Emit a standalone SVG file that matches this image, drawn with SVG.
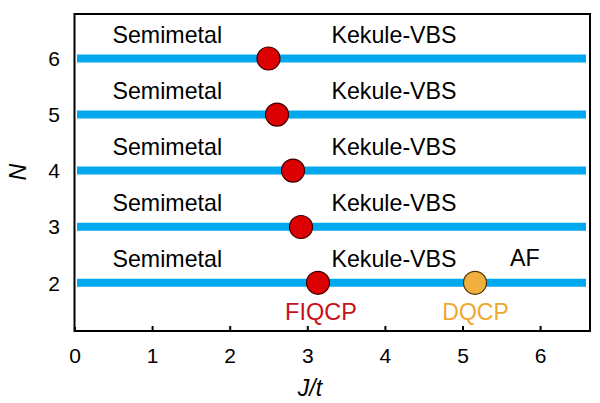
<svg xmlns="http://www.w3.org/2000/svg" width="600" height="403" viewBox="0 0 600 403">
<style>
.t{font-family:"Liberation Sans",Arial,sans-serif;font-size:23.2px;fill:#000}
.n{font-family:"Liberation Sans",Arial,sans-serif;font-size:21px;fill:#000}
.bar{stroke:#03a9ee;stroke-width:8}
.red{fill:#dd0000;stroke:#3a0000;stroke-width:1.2}
.org{fill:#f0b040;stroke:#4a3000;stroke-width:1.2}
.ax{fill:none;stroke:#000;stroke-width:2}
</style>
<rect width="600" height="403" fill="#fff"/>
<g id="axes">
<rect class="ax" x="74.5" y="14" width="515.5" height="317"/>
<path class="ax" d="M75 331v-4M152.6 331v-5M230.2 331v-5M307.8 331v-5M385.4 331v-5M463 331v-5M540.6 331v-5"/>
<g class="n" text-anchor="middle">
<text x="75" y="363">0</text><text x="152.6" y="363">1</text><text x="230.2" y="363">2</text><text x="307.8" y="363">3</text><text x="385.4" y="363">4</text><text x="463" y="363">5</text><text x="540.6" y="363">6</text>
<text x="54" y="66">6</text><text x="54" y="122">5</text><text x="54" y="178">4</text><text x="54" y="234">3</text><text x="54" y="290.5">2</text>
</g>
<text class="t" x="310" y="396" text-anchor="middle" font-style="italic">J/t</text>
<text class="t" x="0" y="0" text-anchor="middle" font-style="italic" transform="translate(26 172) rotate(-90)">N</text>
</g>
<g id="connectors">
<line class="bar" x1="77" y1="58.5" x2="586" y2="58.5"/>
<line class="bar" x1="77" y1="114.6" x2="586" y2="114.6"/>
<line class="bar" x1="77" y1="170.6" x2="586" y2="170.6"/>
<line class="bar" x1="77" y1="226.7" x2="586" y2="226.7"/>
<line class="bar" x1="77" y1="282.8" x2="586" y2="282.8"/>
</g>
<g id="labels" class="t">
<text x="112.5" y="43">Semimetal</text><text x="331.5" y="43">Kekule-VBS</text>
<text x="112.5" y="99">Semimetal</text><text x="331.5" y="99">Kekule-VBS</text>
<text x="112.5" y="155">Semimetal</text><text x="331.5" y="155">Kekule-VBS</text>
<text x="112.5" y="211">Semimetal</text><text x="331.5" y="211">Kekule-VBS</text>
<text x="112.5" y="267">Semimetal</text><text x="331.5" y="267">Kekule-VBS</text>
<text x="510" y="266">AF</text>
</g>
<g id="p6"><circle class="red" cx="268.5" cy="58.5" r="11.5"/></g>
<g id="p5"><circle class="red" cx="277" cy="114.6" r="11.5"/></g>
<g id="p4"><circle class="red" cx="293" cy="170.6" r="11.5"/></g>
<g id="p3"><circle class="red" cx="301" cy="227" r="11.5"/></g>
<g id="fiqcp"><circle class="red" cx="318" cy="282.8" r="11.5"/>
<text class="t" x="321" y="319.5" text-anchor="middle" style="fill:#c8101a;font-size:23.5px">FIQCP</text></g>
<g id="dqcp"><circle class="org" cx="475" cy="282.8" r="11.5"/>
<text class="t" x="475.5" y="319.5" text-anchor="middle" style="fill:#f0a830;font-size:23px">DQCP</text></g>
</svg>
